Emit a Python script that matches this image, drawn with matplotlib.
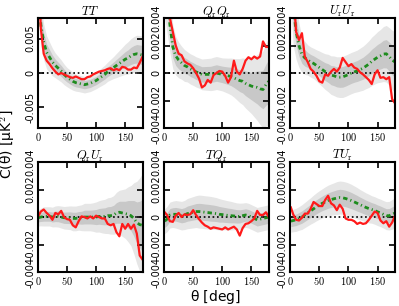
import numpy as np
import matplotlib
matplotlib.use("Agg")
import matplotlib.pyplot as plt
from matplotlib.ticker import FuncFormatter

plt.rcParams['mathtext.fontset'] = 'cm'

# angular separation grid [deg]
theta = [1] + list(range(5, 181, 5))

# all values in units of 1e-3 uK^2
tt_data = [14, 6.5, 2.8, 1.8, 1.3, 0.7, 0.2, -0.2, 0.0, -0.2, -0.4, -0.6, -0.7, -0.5, -0.7, -0.9, -0.9,
           -0.6, -0.5, -0.2, 0.0, 0.2, 0.3, 0.4, 0.6, 0.7, 0.4, 0.6, 0.4, 0.9, 0.8, 0.5, 0.5, 0.8, 0.7, 1.5, 2.4]
tt_mean = [14, 7, 4.5, 3.0, 2.3, 1.6, 1.1, 0.7, 0.3, -0.2, -0.6, -0.9, -1.2, -1.4, -1.5, -1.6, -1.7,
           -1.6, -1.5, -1.3, -1.1, -0.8, -0.5, -0.2, 0.2, 0.5, 0.8, 1.1, 1.4, 1.7, 2.0, 2.2, 2.5, 2.7, 2.8, 2.7, 2.6]
tt_sig = [2.0, 1.5, 1.3, 1.2, 1.1, 1.0, 0.9, 0.85, 0.8, 0.75, 0.7, 0.68, 0.65, 0.62, 0.6, 0.6, 0.6,
          0.6, 0.6, 0.6, 0.6, 0.62, 0.65, 0.68, 0.7, 0.75, 0.8, 0.88, 0.95, 1.02, 1.1, 1.18, 1.25, 1.3, 1.35, 1.38, 1.4]

qq_data = [6, 5.5, 4.0, 3.0, 2.0, 1.4, 1.3, 0.85, 0.7, 0.6, 0.35, 0.0, -0.4, -1.05, -0.9, -0.5, -0.7,
           -0.15, 0.0, 0.15, 0.1, -0.2, -0.7, -0.3, 0.9, 0.1, -0.1, 0.3, 0.9, 1.15, 1.0, 1.2, 1.05, 1.2, 2.3, 1.9, 1.9]
qq_mean = [8, 6, 3.5, 1.9, 1.25, 0.95, 0.75, 0.55, 0.45, 0.3, 0.2, 0.08, 0.0, -0.1, -0.1, -0.1, -0.1,
           -0.05, 0.0, -0.05, -0.1, -0.15, -0.2, -0.25, -0.35, -0.45, -0.55, -0.6, -0.75, -0.85, -0.95, -1.0,
           -1.05, -1.15, -1.2, -0.85, -0.6]
qq_sig = [2.0, 1.5, 1.0, 0.8, 0.7, 0.65, 0.6, 0.58, 0.55, 0.55, 0.55, 0.55, 0.55, 0.56, 0.57, 0.58, 0.59,
          0.6, 0.6, 0.6, 0.6, 0.62, 0.64, 0.67, 0.7, 0.75, 0.8, 0.85, 0.9, 0.95, 1.0, 1.1, 1.2, 1.3, 1.4, 1.5, 1.6]

uu_data = [9, 6, 3.0, 2.4, 2.9, 1.2, 0.8, 0.3, 0.1, -0.2, -0.6, -0.7, -0.1, -0.2, 0.1, 0.3, 0.1,
           0.4, 1.1, 0.8, 0.5, 0.65, 0.4, 0.3, 0.05, -0.1, -0.3, -0.5, -0.8, -0.1, 0.2, -0.35, -0.3, -0.45,
           -0.3, -1.9, -2.2]
uu_mean = [9, 5, 3.0, 2.0, 1.35, 1.1, 0.95, 0.8, 0.7, 0.55, 0.4, 0.25, 0.1, 0.0, -0.15, -0.2, -0.28,
           -0.3, -0.28, -0.2, -0.1, 0.0, 0.08, 0.15, 0.25, 0.35, 0.5, 0.65, 0.85, 1.0, 1.15, 1.25, 1.38, 1.4,
           1.2, 0.95, 0.8]
uu_sig = [2.0, 1.5, 1.0, 0.8, 0.65, 0.6, 0.55, 0.55, 0.55, 0.57, 0.6, 0.62, 0.65, 0.68, 0.7, 0.72, 0.73,
          0.74, 0.75, 0.75, 0.75, 0.75, 0.75, 0.76, 0.78, 0.8, 0.82, 0.85, 0.88, 0.9, 0.93, 0.96, 1.0, 1.03,
          1.05, 1.08, 1.1]

qu_data = [0.1, 0.4, 0.55, 0.3, 0.1, -0.2, 0.3, 0.2, 0.45, 0.0, -0.15, -0.2, -0.6, -0.75, -0.3, 0.05, 0.0,
           -0.1, 0.05, -0.1, 0.1, 0.0, -0.1, -0.1, -0.5, -0.6, -0.5, -1.1, -1.4, -0.5, -0.85, -0.5, -0.85,
           -0.55, -1.2, -2.8, -3.1]
qu_mean = [-0.05, 0.0, 0.05, 0.05, 0.05, 0.0, 0.05, 0.05, 0.0, -0.05, -0.05, -0.05, -0.1, -0.1, -0.05,
           -0.05, 0.0, 0.0, 0.0, 0.0, 0.0, 0.05, 0.05, 0.05, 0.1, 0.1, 0.15, 0.3, 0.35, 0.3, 0.25, 0.2, 0.1,
           -0.1, -0.4, -0.55, -0.6]
qu_sig = [0.3, 0.32, 0.35, 0.35, 0.35, 0.36, 0.38, 0.39, 0.4, 0.41, 0.42, 0.43, 0.45, 0.45, 0.45, 0.47,
          0.5, 0.5, 0.5, 0.52, 0.55, 0.57, 0.6, 0.62, 0.65, 0.67, 0.7, 0.75, 0.8, 0.85, 0.9, 1.0, 1.1, 1.3,
          1.5, 1.7, 1.9]

tq_data = [0.35, 0.15, -0.3, -0.35, 0.1, 0.3, 0.0, 0.2, 0.15, 0.2, 0.5, 0.15, -0.15, -0.4, -0.6, -0.7,
           -0.85, -0.75, -0.8, -0.85, -0.9, -0.75, -0.9, -0.8, -0.7, -0.9, -1.35, -0.8, -0.5, -0.45, -0.3,
           -0.1, 0.45, 0.15, 0.15, 0.35, 0.0]
tq_mean = [-0.3, -0.15, 0.15, 0.2, 0.2, 0.15, 0.1, 0.15, 0.25, 0.3, 0.35, 0.4, 0.4, 0.38, 0.35, 0.33, 0.3,
           0.28, 0.25, 0.2, 0.18, 0.15, 0.12, 0.1, 0.08, 0.05, 0.05, 0.1, 0.15, 0.1, 0.0, -0.1, -0.2, -0.15,
           -0.1, -0.05, 0.0]
tq_sig = [0.45, 0.46, 0.47, 0.48, 0.5, 0.51, 0.52, 0.53, 0.55, 0.56, 0.57, 0.58, 0.6, 0.6, 0.6, 0.6, 0.6,
          0.59, 0.58, 0.57, 0.55, 0.54, 0.53, 0.52, 0.5, 0.49, 0.48, 0.46, 0.45, 0.45, 0.45, 0.45, 0.45, 0.45,
          0.45, 0.45, 0.45]

tu_data = [0.7, 0.2, -0.2, -0.25, -0.05, 0.25, 0.25, 0.6, 1.1, 0.95, 0.8, 0.8, 1.25, 1.55, 1.0, 0.85, 0.5,
           0.9, 0.6, -0.1, -0.2, -0.2, -0.3, -0.5, -0.4, -0.5, -0.45, -0.2, 0.1, 0.4, 0.3, -0.25, -0.45, -0.3,
           -0.7, -0.4, 0.1]
tu_mean = [-0.3, -0.25, -0.2, -0.1, 0.0, 0.15, 0.3, 0.45, 0.6, 0.75, 0.88, 1.0, 1.1, 1.2, 1.27, 1.33, 1.38,
           1.42, 1.4, 1.35, 1.28, 1.2, 1.1, 1.0, 0.9, 0.8, 0.7, 0.62, 0.55, 0.48, 0.38, 0.3, 0.2, 0.1, 0.1, 0.2,
           0.3]
tu_sig = [0.4, 0.41, 0.42, 0.43, 0.45, 0.46, 0.47, 0.48, 0.5, 0.51, 0.52, 0.53, 0.55, 0.56, 0.57, 0.58,
          0.6, 0.6, 0.6, 0.6, 0.6, 0.59, 0.58, 0.57, 0.55, 0.54, 0.53, 0.52, 0.5, 0.5, 0.5, 0.5, 0.5, 0.51,
          0.52, 0.54, 0.55]

panels = [
    (r'$TT$', tt_data, tt_mean, tt_sig, 8, [-5, 0, 5]),
    (r'$Q_{\rm r}Q_{\rm r}$', qq_data, qq_mean, qq_sig, 4, [-4, -2, 0, 2, 4]),
    (r'$U_{\rm r}U_{\rm r}$', uu_data, uu_mean, uu_sig, 4, [-4, -2, 0, 2, 4]),
    (r'$Q_{\rm r}U_{\rm r}$', qu_data, qu_mean, qu_sig, 4, [-4, -2, 0, 2, 4]),
    (r'$TQ_{\rm r}$', tq_data, tq_mean, tq_sig, 4, [-4, -2, 0, 2, 4]),
    (r'$TU_{\rm r}$', tu_data, tu_mean, tu_sig, 4, [-4, -2, 0, 2, 4]),
]

fig, axes = plt.subplots(2, 3, figsize=(3.99, 3.06), dpi=100)
fig.subplots_adjust(left=0.095, right=0.99, top=0.941, bottom=0.111, wspace=0.205, hspace=0.31)

th = np.array(theta)
for ax, (title, data, mean, sig, lim, ticks) in zip(axes.flat, panels):
    m = np.array(mean) * 1e-3
    s = np.array(sig) * 1e-3
    ax.fill_between(th, m - 2 * s, m + 2 * s, color='#e6e6e6', lw=0)
    ax.fill_between(th, m - s, m + s, color='#c8c8c8', lw=0)
    ax.axhline(0, color='k', ls=':', lw=1.2)
    ax.plot(th, m, color='#1e8c1e', ls=(0, (1.6, 1.1, 0.4, 1.1)), lw=2)
    ax.plot(th, np.array(data) * 1e-3, color='#ff1a1a', lw=1.6)
    ax.set_xlim(0, 180)
    ax.set_ylim(-lim * 1e-3, lim * 1e-3)
    ax.set_xticks([0, 50, 100, 150])
    ax.set_yticks([t * 1e-3 for t in ticks])
    ax.xaxis.set_major_formatter(FuncFormatter(lambda v, p: r'$%d$' % v))
    ax.yaxis.set_major_formatter(FuncFormatter(lambda v, p: '0' if abs(v) < 1e-9 else '%g' % v))
    ax.tick_params(direction='in', top=True, right=True, length=4, width=1.2, pad=2)
    ax.tick_params(axis='x', labelsize=7.5)
    ax.tick_params(axis='y', labelsize=7, labelrotation=90)
    for lab in ax.get_yticklabels():
        lab.set_va('center')
    for sp in ax.spines.values():
        sp.set_linewidth(1.5)
    ax.set_title(title, fontsize=9, pad=2)

fig.text(0.02, 0.53, r'C($\mathregular{\theta}$) [$\mathregular{\mu}$K$^2$]', rotation=90,
         ha='center', va='center', fontsize=10)
fig.text(0.54, 0.03, r'$\mathregular{\theta}$ [deg]', ha='center', va='center', fontsize=10)

fig.savefig('out.png', dpi=100)
